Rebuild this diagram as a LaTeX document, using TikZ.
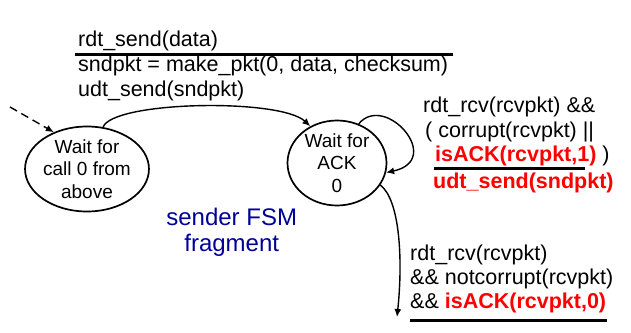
\documentclass[tikz,border=0pt]{standalone}
\usepackage{fontspec}
\setmainfont{Liberation Sans}
\usetikzlibrary{shapes.geometric,arrows.meta}
\definecolor{fsmblue}{RGB}{0,0,153}
\newcommand\redbold[1]{\textcolor{red}{\textbf{#1}}}
\begin{document}
\begin{tikzpicture}[x=1pt,y=-1pt,
  lbl/.style={anchor=base west, inner sep=0, font=\fontsize{21.5}{25}\selectfont},
  stbox/.style={ellipse, draw, line width=1.7pt, minimum width=99pt, minimum height=85pt,
    inner sep=0, align=center, font=\fontsize{19}{22.7}\selectfont},
  arr/.style={line width=1.4pt, -{Latex[length=8pt,width=7pt]}},
  rl/.style={line width=2.5pt},
  fsm/.style={anchor=base, inner sep=0, text=fsmblue, font=\fontsize{24}{28}\selectfont}]
\useasboundingbox (0,0) rectangle (631,332);

% states
\node[stbox] (s0) at (87,169) {Wait for\\call 0 from\\above};
\node[stbox] (s1) at (337,163) {Wait for\\ACK\\0};

% top label
\node[lbl] (t1) at (78,46) {rdt\_send(data)};
\node[lbl] (t2) at (78,71) {sndpkt = make\_pkt(0, data, checksum)};
\node[lbl] (t3) at (78,96) {udt\_send(sndpkt)};
\draw[rl] (75,54.5) -- (453,54.5);

% right label
\node[lbl] (r1) at (423,112) {rdt\_rcv(rcvpkt) \&\&};
\node[lbl] (r2) at (425,137) {( corrupt(rcvpkt) ||};
\node[lbl] (r3) at (435,161) {\redbold{isACK(rcvpkt,1)} )};
\draw[rl] (434,168.3) -- (585,168.3);
\node[lbl] (r4) at (433,188) {\redbold{udt\_send(sndpkt)}};

% bottom label
\node[lbl] (b1) at (410,260) {rdt\_rcv(rcvpkt)};
\node[lbl] (b2) at (410,284) {\&\& notcorrupt(rcvpkt)};
\node[lbl] (b3) at (410,308) {\&\& \redbold{isACK(rcvpkt,0)}};
\draw[line width=3pt] (410,320) -- (607,320);

% fsm caption
\node[fsm] (f1) at (231.7,225) {sender FSM};
\node[fsm] (f2) at (231.7,251.7) {fragment};

% connectors
\coordinate (d0) at (10,107);
\draw[arr, dash pattern=on 8pt off 5pt] (d0) -- (s0.132);
\draw[arr] (s0.69) .. controls (113,101) and (280,98) .. (s1.126);
\draw[arr] (s1.61.5) .. controls (385,92) and (445,160) .. (s1.-11);
\coordinate (e1) at (397,317);
\draw[arr] (s1.-27.5) .. controls (400,200) and (403,260) .. (e1);
\end{tikzpicture}
\end{document}
